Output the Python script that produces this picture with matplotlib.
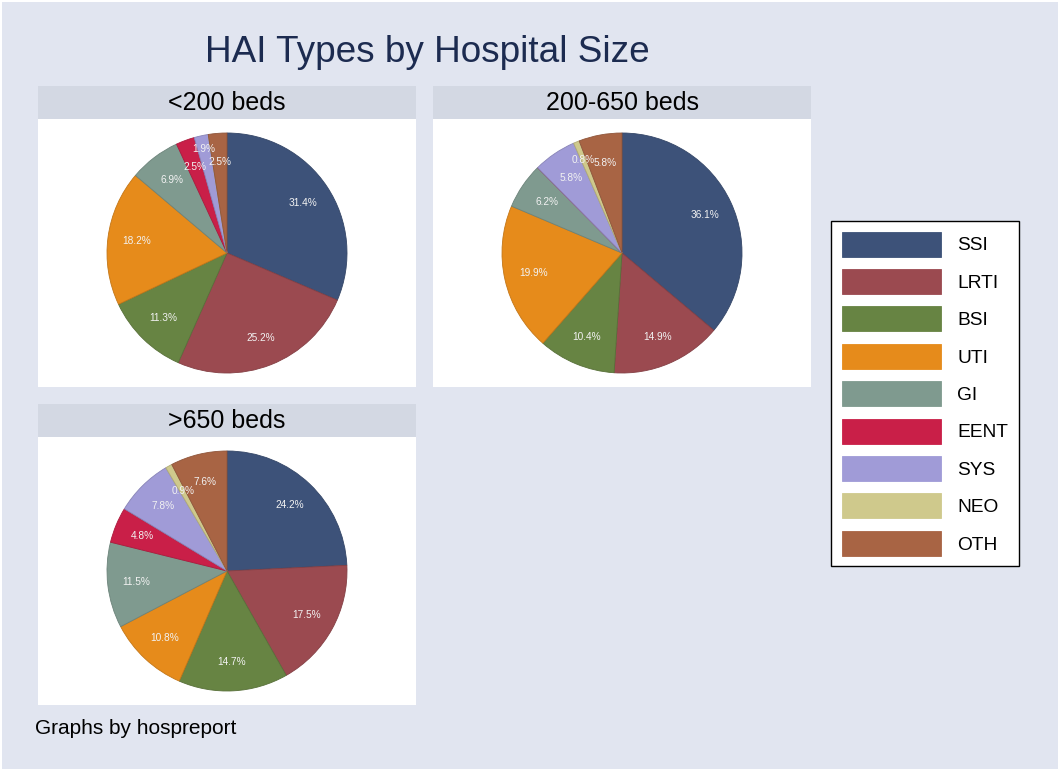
import matplotlib.pyplot as plt
from matplotlib.patches import Rectangle
import matplotlib.colors as mcolors

plt.rcParams['font.family'] = ['Liberation Sans', 'DejaVu Sans']

W, H = 1060, 771          # output size in pixels (dpi 100)

hai_types = ['SSI', 'LRTI', 'BSI', 'UTI', 'GI', 'EENT', 'SYS', 'NEO', 'OTH']
type_colors = ['#3d5279', '#9b4a50', '#678443', '#e68b1b', '#7f9a8f',
               '#c91f48', '#a09bd7', '#cfc98c', '#a86444']

size_groups = ['<200 beds', '200-650 beds', '>650 beds']
pct_small = [31.4, 25.2, 11.3, 18.2, 6.9, 2.5, 1.9, 0.0, 2.5]
pct_medium = [36.1, 14.9, 10.4, 19.9, 6.2, 0.0, 5.8, 0.8, 5.8]
pct_large = [24.2, 17.5, 14.7, 10.8, 11.5, 4.8, 7.8, 0.9, 7.6]

BG = '#e1e5f0'
STRIP = '#d3d8e3'
PCT_DIST = 0.76
# crowded slice labels pushed further out from the centre
label_dist = {('<200 beds', 'SYS'): 0.89, ('200-650 beds', 'NEO'): 0.84}


def px_box(x, y, w, h):
    """ pixel box (top-left origin) -> figure fraction rect """
    return [x / W, 1 - (y + h) / H, w / W, h / H]


def pct_label(p):
    return '%.1f%%' % p if p > 0 else ''


def darker(c, f=0.85):
    return tuple(v * f for v in mcolors.to_rgb(c))


fig = plt.figure(figsize=(W / 100, H / 100), dpi=100, facecolor='white')
fig.patches.append(Rectangle((2 / W, 2 / H), 1 - 4 / W, 1 - 4 / H,
                             transform=fig.transFigure, facecolor=BG,
                             edgecolor='none', zorder=-10))

fig.text(427 / W, 1 - 52 / H, 'HAI Types by Hospital Size', ha='center',
         va='center', fontsize=26.6, color='#1c2b50')

# panel corners (left, top) in pixels; header strip + white plot region
panel_pos = [(38, 86), (433, 86), (38, 404)]
panel_w, strip_h, body_h = 378, 33, 268
radius_px = 120

wedges_all = None
for (px, py), name, vals in zip(panel_pos, size_groups,
                                [pct_small, pct_medium, pct_large]):
    hx = fig.add_axes(px_box(px, py, panel_w, strip_h))
    hx.set_facecolor(STRIP)
    hx.set_xticks([])
    hx.set_yticks([])
    for s in hx.spines.values():
        s.set_visible(False)
    hx.text(0.5, 0.48, name, ha='center', va='center', fontsize=18,
            transform=hx.transAxes)

    ax = fig.add_axes(px_box(px, py + strip_h, panel_w, body_h))
    wedges, _, autotexts = ax.pie(
        vals, colors=type_colors, startangle=90, counterclock=False,
        autopct=pct_label, pctdistance=PCT_DIST, radius=1.0,
        wedgeprops=dict(linewidth=0.6),
        textprops=dict(color='#f2f2f2', fontsize=7.3))
    for w, c in zip(wedges, type_colors):
        w.set_edgecolor(darker(c))
    for t, cat in zip(autotexts, hai_types):
        if (name, cat) in label_dist:
            x, y = t.get_position()
            k = label_dist[(name, cat)] / PCT_DIST
            t.set_position((x * k, y * k))
    ax.set_frame_on(True)
    ax.set_facecolor('white')
    ax.set_xlim(-panel_w / 2 / radius_px, panel_w / 2 / radius_px)
    ax.set_ylim(-body_h / 2 / radius_px, body_h / 2 / radius_px)
    ax.set_aspect('auto')
    ax.set_xticks([])
    ax.set_yticks([])
    for s in ax.spines.values():
        s.set_visible(False)
    wedges_all = wedges

fs = 13.8
leg = fig.legend(wedges_all, hai_types, loc='upper left',
                 bbox_to_anchor=(831 / W, 1 - 221 / H), borderaxespad=0,
                 fontsize=fs, handlelength=5.2, handleheight=1.64,
                 labelspacing=0.64, handletextpad=0.85, borderpad=0.55,
                 frameon=True, fancybox=False, framealpha=1,
                 edgecolor='black', facecolor='white')
leg.get_frame().set_linewidth(1.0)
# drop the slice outlines in the legend keys
for h in leg.legend_handles:
    h.set_edgecolor(h.get_facecolor())

fig.text(35 / W, 1 - 729 / H, 'Graphs by hospreport', ha='left',
         va='center', fontsize=15)

fig.savefig('out.png', dpi=100, facecolor=fig.get_facecolor())
